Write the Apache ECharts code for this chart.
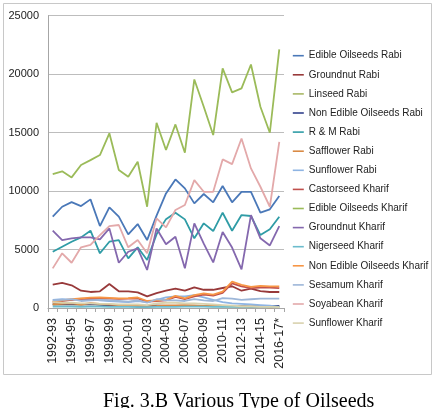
<!DOCTYPE html>
<html>
<head>
<meta charset="utf-8">
<script src="https://cdn.jsdelivr.net/npm/echarts@6/dist/echarts.min.js"></script>
<style>
  html, body { margin: 0; padding: 0; background: #fff; }
  #main { width: 435px; height: 408px; }
</style>
</head>
<body>
<div id="main"></div>
<script>
// seasons on the x axis
var years = ['1992-93','1993-94','1994-95','1995-96','1996-97','1997-98','1998-99','1999-00',
    '2000-01','2001-02','2002-03','2003-04','2004-05','2005-06','2006-07','2007-08','2008-09',
    '2009-10','2010-11','2011-12','2012-13','2013-14','2014-15','2015-16','2016-17*'];

// production values
var edibleRabi = [7810,8660,9060,8720,9290,7010,8610,7810,6300,7180,5810,7900,9800,11000,10230,8950,9750,9040,10430,9040,9940,9940,8150,8440,9580];
var groundnutRabi = [1990,2140,1940,1480,1370,1430,2050,1430,1430,1340,1000,1280,1480,1650,1480,1770,1560,1560,1710,1860,1480,1650,1450,1370,1370];
var linseedRabi = [300,320,310,300,330,290,230,240,210,190,170,200,180,170,170,160,170,150,160,150,150,140,150,130,180];
var nonEdibleRabi = [310,330,320,310,340,300,240,250,220,200,180,210,190,180,180,170,180,160,170,160,160,150,160,140,190];
var rmRabi = [4810,5240,5670,6040,6610,4680,5670,5810,4250,5190,4100,6300,7600,8150,7580,5960,7240,6580,8150,6610,7950,7870,6240,6730,7810];
var safflowerRabi = [320,360,400,300,420,350,300,250,220,200,150,180,230,230,240,230,190,180,150,145,110,110,90,60,90];
var sunflowerRabi = [700,750,700,800,750,650,600,550,500,600,500,700,900,1000,1000,1100,900,700,500,400,350,300,250,200,100];
var castorKharif = [500,580,700,780,800,820,800,780,800,830,550,600,650,950,760,1000,1150,1050,1300,2100,1850,1700,1750,1750,1700];
var edibleKharif = [11460,11690,11170,12230,12650,13080,14940,11800,11230,12510,8660,15840,13510,15700,13280,19550,17210,14790,20490,18440,18780,20830,17210,14990,22120];
var groundnutKharif = [6610,5810,5960,6040,6040,5870,6810,3870,4810,5100,3250,6800,5450,6100,3390,7240,5500,3900,6500,5170,3310,7950,5960,5350,7010];
var nigerKharif = [110,120,110,100,110,110,100,90,90,80,70,100,100,100,110,110,120,100,110,100,100,100,90,80,80];
var nonEdibleKharif = [550,650,750,830,880,900,870,830,850,900,600,650,700,1030,830,1100,1250,1150,1400,2250,1970,1800,1900,1850,1850];
var sesamumKharif = [650,700,750,600,650,700,650,600,550,650,450,750,650,650,600,750,650,600,850,800,700,750,800,800,800];
var soyabeanKharif = [3390,4680,3870,5190,5390,6240,7010,7100,5190,5810,4680,7670,6900,8380,8810,10940,9940,9940,12710,12310,14500,11940,10370,8660,14200];
var sunflowerKharif = [500,450,450,400,400,350,350,300,300,300,250,400,450,450,400,400,350,300,250,200,150,150,100,100,80];

var yTicks = { min: 0, max: 25000, step: 5000 };

var seriesList = [
    ['Edible Oilseeds Rabi', edibleRabi, '#4a78b8'],
    ['Groundnut Rabi', groundnutRabi, '#98393a'],
    ['Linseed Rabi', linseedRabi, '#a9b866'],
    ['Non Edible Oilseeds Rabi', nonEdibleRabi, '#33418c'],
    ['R & M Rabi', rmRabi, '#2f9ca6'],
    ['Safflower Rabi', safflowerRabi, '#d98a45'],
    ['Sunflower Rabi', sunflowerRabi, '#8eb4e3'],
    ['Castorseed Kharif', castorKharif, '#c0504d'],
    ['Edible Oilseeds Kharif', edibleKharif, '#9bbb59'],
    ['Groundnut Kharif', groundnutKharif, '#8468ae'],
    ['Nigerseed Kharif', nigerKharif, '#6cbccd'],
    ['Non Edible Oilseeds Kharif', nonEdibleKharif, '#f79646'],
    ['Sesamum Kharif', sesamumKharif, '#9db6d8'],
    ['Soyabean Kharif', soyabeanKharif, '#e3a9aa'],
    ['Sunflower Kharif', sunflowerKharif, '#d9d2ae']
];

var series = [];
var names = [];
for (var i = 0; i < seriesList.length; i++) {
    names.push(seriesList[i][0]);
    series.push({
        name: seriesList[i][0],
        type: 'line',
        data: seriesList[i][1],
        symbol: 'none',
        color: seriesList[i][2],
        lineStyle: { width: 1.8, color: seriesList[i][2] },
        animation: false
    });
}

var myChart = echarts.init(document.getElementById('main'), null, { renderer: 'canvas' });

var option = {
    backgroundColor: '#fff',
    animation: false,
    grid: { left: 48, right: 151, top: 15.7, bottom: 100, containLabel: false },
    legend: {
        data: names,
        orient: 'vertical',
        left: 292,
        top: 49.7,
        padding: 0,
        itemWidth: 11,
        itemHeight: 12,
        itemGap: 7.1,
        itemStyle: { opacity: 0 },
        lineStyle: { width: 1.6 },
        textStyle: { fontFamily: 'Liberation Sans', fontSize: 10, color: '#222', lineHeight: 12 }
    },
    xAxis: {
        type: 'category',
        data: years,
        boundaryGap: true,
        axisLine: { lineStyle: { color: '#a6a6a6', width: 1 } },
        axisTick: { show: true, interval: 0, length: 4, lineStyle: { color: '#a6a6a6' } },
        axisLabel: {
            interval: 1,
            rotate: 90,
            margin: 10,
            fontFamily: 'Liberation Sans',
            fontSize: 12.5,
            color: '#222'
        }
    },
    yAxis: {
        type: 'value',
        min: yTicks.min,
        max: yTicks.max,
        interval: yTicks.step,
        axisLine: { show: true, lineStyle: { color: '#a6a6a6', width: 1 } },
        axisTick: { show: false },
        splitLine: { lineStyle: { color: '#bdbdbd', width: 1 } },
        axisLabel: {
            fontFamily: 'Liberation Sans',
            fontSize: 11,
            color: '#222',
            margin: 9,
            formatter: function (v) { return String(v); }
        }
    },
    graphic: [
        {
            type: 'rect',
            shape: { x: 3.5, y: 3.5, width: 428, height: 371 },
            style: { fill: 'none', stroke: '#c8c8c8', lineWidth: 1 },
            silent: true
        },
        {
            type: 'text',
            left: 103,
            top: 392,
            style: {
                text: 'Fig. 3.B Various Type of Oilseeds',
                fontFamily: 'Liberation Serif',
                fontSize: 20,
                fill: '#000'
            }
        }
    ],
    series: series
};

myChart.setOption(option);
</script>
</body>
</html>
